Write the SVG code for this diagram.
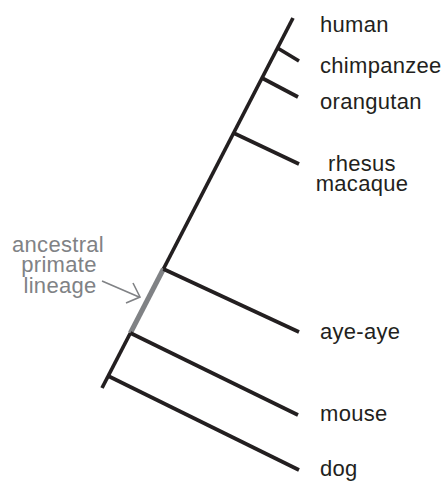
<svg xmlns="http://www.w3.org/2000/svg" width="448" height="483" viewBox="0 0 448 483">
<style>
.br{stroke:#231f20;stroke-width:3.7;fill:none;stroke-linecap:butt}
.anc{stroke:#808285;stroke-width:5;fill:none}
.arr{stroke:#808285;stroke-width:1.6;fill:none}
.lbl{font-family:"Liberation Sans",Arial,sans-serif;font-size:22px;fill:#231f20;letter-spacing:0.3px}
.glbl{font-family:"Liberation Sans",Arial,sans-serif;font-size:22px;fill:#808285;letter-spacing:0.3px}
</style>
<rect width="448" height="483" fill="#ffffff"/>
<g id="connectors">
<path class="br" d="M293,18 L163.4,269"/>
<path class="anc" d="M163.4,269 L130.4,333"/>
<path class="br" d="M130.4,333 L102,388"/>
<path class="br" d="M277.5,48 L299,61"/>
<path class="br" d="M262,78 L298,97"/>
<path class="br" d="M233.6,133 L299,164"/>
<path class="br" d="M163.4,269 L299,332"/>
<path class="br" d="M130.4,333 L298,415"/>
<path class="br" d="M108.2,376 L299,470"/>
<path class="arr" d="M102,281 L139,297"/>
<path class="arr" d="M133,283 L140,297 L126,303"/>
</g>
<g id="human"><text class="lbl" x="320" y="32">human</text></g>
<g id="chimpanzee"><text class="lbl" x="320" y="73">chimpanzee</text></g>
<g id="orangutan"><text class="lbl" x="320" y="109">orangutan</text></g>
<g id="rhesus"><text class="lbl" x="362" y="170.5" text-anchor="middle">rhesus</text><text class="lbl" x="362" y="190.5" text-anchor="middle">macaque</text></g>
<g id="aye-aye"><text class="lbl" x="320" y="339">aye-aye</text></g>
<g id="mouse"><text class="lbl" x="320" y="421">mouse</text></g>
<g id="dog"><text class="lbl" x="320" y="476">dog</text></g>
<g id="ancestral"><text class="glbl" x="58" y="251.5" text-anchor="middle">ancestral</text><text class="glbl" x="59" y="272" text-anchor="middle">primate</text><text class="glbl" x="60" y="292.5" text-anchor="middle">lineage</text></g>
</svg>
